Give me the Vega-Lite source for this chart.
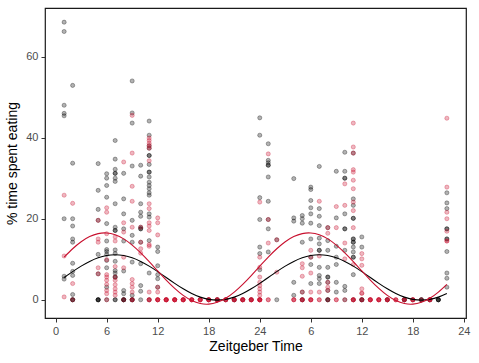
{
"$schema":"https://vega.github.io/schema/vega-lite/v6.json",
"autosize":{"type":"none"},
"padding":{"left":45,"top":8,"right":13,"bottom":45},
"width":421,"height":310,
"background":"white",
"config":{
"view":{"stroke":"#1a1a1a","strokeWidth":1.2},
"axis":{"labelFont":"Liberation Sans","labelFontSize":11,"labelColor":"#4d4d4d","titleFont":"Liberation Sans","titleFontSize":14,"titleColor":"#000000","titleFontWeight":"normal","tickColor":"#333333","tickSize":4,"grid":false,"domain":false,"labelPadding":3}
},
"datasets":{
"pts":[
{"t":1,"y":68.5,"g":"b"},{"t":1,"y":66.2,"g":"b"},{"t":1,"y":48,"g":"b"},{"t":1,"y":46,"g":"b"},{"t":1,"y":45.4,"g":"b"},{"t":1,"y":20,"g":"b"},{"t":1,"y":5.8,"g":"b"},{"t":1,"y":5.1,"g":"b"},
{"t":2,"y":52.9,"g":"b"},{"t":2,"y":33.7,"g":"b"},{"t":2,"y":20,"g":"b"},{"t":2,"y":18.2,"g":"b"},{"t":2,"y":15,"g":"b"},{"t":2,"y":14.2,"g":"b"},{"t":2,"y":9,"g":"b"},{"t":2,"y":7,"g":"b"},{"t":2,"y":6,"g":"b"},{"t":2,"y":1.3,"g":"b"},{"t":2,"y":0,"g":"b"},{"t":2,"y":0,"g":"b"},{"t":2,"y":0,"g":"b"},
{"t":5,"y":33.6,"g":"b"},{"t":5,"y":27,"g":"b"},{"t":5,"y":22.3,"g":"b"},{"t":5,"y":19.6,"g":"b"},{"t":5,"y":11.2,"g":"b"},{"t":5,"y":6.4,"g":"b"},{"t":5,"y":0,"g":"b"},{"t":5,"y":0,"g":"b"},{"t":5,"y":0,"g":"b"},{"t":5,"y":0,"g":"b"},
{"t":6,"y":31.1,"g":"b"},{"t":6,"y":30,"g":"b"},{"t":6,"y":28.2,"g":"b"},{"t":6,"y":25.3,"g":"b"},{"t":6,"y":18.8,"g":"b"},{"t":6,"y":14.5,"g":"b"},{"t":6,"y":12.4,"g":"b"},{"t":6,"y":11.9,"g":"b"},{"t":6,"y":11.2,"g":"b"},{"t":6,"y":9.7,"g":"b"},{"t":6,"y":7.9,"g":"b"},{"t":6,"y":3.1,"g":"b"},{"t":6,"y":0,"g":"b"},
{"t":7,"y":39.3,"g":"b"},{"t":7,"y":34.7,"g":"b"},{"t":7,"y":32.2,"g":"b"},{"t":7,"y":31.2,"g":"b"},{"t":7,"y":31.2,"g":"b"},{"t":7,"y":30,"g":"b"},{"t":7,"y":29.2,"g":"b"},{"t":7,"y":23.7,"g":"b"},{"t":7,"y":17.9,"g":"b"},{"t":7,"y":17.1,"g":"b"},{"t":7,"y":17.1,"g":"b"},{"t":7,"y":12.3,"g":"b"},{"t":7,"y":11.4,"g":"b"},{"t":7,"y":9.5,"g":"b"},{"t":7,"y":7.2,"g":"b"},{"t":7,"y":6.6,"g":"b"},{"t":7,"y":5.6,"g":"b"},{"t":7,"y":5.6,"g":"b"},{"t":7,"y":0,"g":"b"},{"t":7,"y":0,"g":"b"},
{"t":8,"y":31.2,"g":"b"},{"t":8,"y":24.9,"g":"b"},{"t":8,"y":21.2,"g":"b"},{"t":8,"y":17.5,"g":"b"},{"t":8,"y":14.5,"g":"b"},{"t":8,"y":7.1,"g":"b"},{"t":8,"y":2.3,"g":"b"},{"t":8,"y":1.5,"g":"b"},{"t":8,"y":0,"g":"b"},{"t":8,"y":0,"g":"b"},{"t":8,"y":0,"g":"b"},{"t":8,"y":0,"g":"b"},
{"t":9,"y":54,"g":"b"},{"t":9,"y":46.1,"g":"b"},{"t":9,"y":43.6,"g":"b"},{"t":9,"y":33,"g":"b"},{"t":9,"y":19.6,"g":"b"},{"t":9,"y":15.9,"g":"b"},{"t":9,"y":14.2,"g":"b"},{"t":9,"y":9.3,"g":"b"},{"t":9,"y":1.1,"g":"b"},{"t":9,"y":0,"g":"b"},{"t":9,"y":0,"g":"b"},{"t":9,"y":0,"g":"b"},
{"t":10,"y":33.2,"g":"b"},{"t":10,"y":30.5,"g":"b"},{"t":10,"y":23.7,"g":"b"},{"t":10,"y":21.6,"g":"b"},{"t":10,"y":20.6,"g":"b"},{"t":10,"y":17.9,"g":"b"},{"t":10,"y":17.5,"g":"b"},{"t":10,"y":17.5,"g":"b"},{"t":10,"y":14.2,"g":"b"},{"t":10,"y":8.9,"g":"b"},{"t":10,"y":3.5,"g":"b"},{"t":10,"y":2.1,"g":"b"},{"t":10,"y":0,"g":"b"},
{"t":11,"y":44.1,"g":"b"},{"t":11,"y":40.6,"g":"b"},{"t":11,"y":38,"g":"b"},{"t":11,"y":37.4,"g":"b"},{"t":11,"y":35.6,"g":"b"},{"t":11,"y":35.6,"g":"b"},{"t":11,"y":33.4,"g":"b"},{"t":11,"y":31.5,"g":"b"},{"t":11,"y":31.5,"g":"b"},{"t":11,"y":30.3,"g":"b"},{"t":11,"y":29,"g":"b"},{"t":11,"y":28.2,"g":"b"},{"t":11,"y":27.4,"g":"b"},{"t":11,"y":26.4,"g":"b"},{"t":11,"y":25.8,"g":"b"},{"t":11,"y":21.2,"g":"b"},{"t":11,"y":20.4,"g":"b"},{"t":11,"y":14.6,"g":"b"},{"t":11,"y":6.6,"g":"b"},{"t":11,"y":0,"g":"b"},
{"t":12,"y":13,"g":"b"},{"t":12,"y":11.9,"g":"b"},{"t":12,"y":8.4,"g":"b"},{"t":12,"y":6.2,"g":"b"},{"t":12,"y":5.2,"g":"b"},{"t":12,"y":3.1,"g":"b"},
{"t":18,"y":0,"g":"b"},{"t":19,"y":0,"g":"b"},{"t":19,"y":0,"g":"b"},{"t":20,"y":0,"g":"b"},{"t":21,"y":0,"g":"b"},{"t":21,"y":0,"g":"b"},{"t":22,"y":0,"g":"b"},{"t":23,"y":0,"g":"b"},
{"t":24,"y":44.9,"g":"b"},{"t":24,"y":40.6,"g":"b"},{"t":24,"y":25.2,"g":"b"},{"t":24,"y":19.8,"g":"b"},{"t":24,"y":13,"g":"b"},{"t":24,"y":11.4,"g":"b"},{"t":24,"y":7.4,"g":"b"},
{"t":25,"y":38.5,"g":"b"},{"t":25,"y":34.4,"g":"b"},{"t":25,"y":33.8,"g":"b"},{"t":25,"y":33.2,"g":"b"},{"t":25,"y":33.2,"g":"b"},{"t":25,"y":30.3,"g":"b"},{"t":25,"y":24.3,"g":"b"},{"t":25,"y":19.8,"g":"b"},{"t":25,"y":17.5,"g":"b"},{"t":25,"y":11.8,"g":"b"},
{"t":26,"y":14.8,"g":"b"},{"t":26,"y":0,"g":"b"},
{"t":28,"y":29.9,"g":"b"},{"t":28,"y":20.2,"g":"b"},{"t":28,"y":19.4,"g":"b"},{"t":28,"y":4.3,"g":"b"},{"t":28,"y":1.1,"g":"b"},
{"t":29,"y":20.8,"g":"b"},{"t":29,"y":20,"g":"b"},{"t":29,"y":18.9,"g":"b"},{"t":29,"y":14.2,"g":"b"},{"t":29,"y":1.9,"g":"b"},{"t":29,"y":0,"g":"b"},{"t":29,"y":0,"g":"b"},
{"t":30,"y":27.8,"g":"b"},{"t":30,"y":27.2,"g":"b"},{"t":30,"y":24.5,"g":"b"},{"t":30,"y":22.7,"g":"b"},{"t":30,"y":21.2,"g":"b"},{"t":30,"y":18.9,"g":"b"},{"t":30,"y":15,"g":"b"},{"t":30,"y":10.5,"g":"b"},{"t":30,"y":8.7,"g":"b"},{"t":30,"y":4,"g":"b"},
{"t":31,"y":32.9,"g":"b"},{"t":31,"y":22.5,"g":"b"},{"t":31,"y":20.6,"g":"b"},{"t":31,"y":18.3,"g":"b"},{"t":31,"y":15.2,"g":"b"},{"t":31,"y":13.8,"g":"b"},{"t":31,"y":12.2,"g":"b"},{"t":31,"y":12.2,"g":"b"},{"t":31,"y":8,"g":"b"},{"t":31,"y":6,"g":"b"},{"t":31,"y":5.2,"g":"b"},{"t":31,"y":4,"g":"b"},
{"t":32,"y":17.8,"g":"b"},{"t":32,"y":14.6,"g":"b"},{"t":32,"y":12.2,"g":"b"},{"t":32,"y":8,"g":"b"},{"t":32,"y":5.6,"g":"b"},{"t":32,"y":5.6,"g":"b"},{"t":32,"y":4.3,"g":"b"},{"t":32,"y":2.3,"g":"b"},{"t":32,"y":0,"g":"b"},{"t":32,"y":0,"g":"b"},{"t":32,"y":0,"g":"b"},
{"t":33,"y":31.7,"g":"b"},{"t":33,"y":20.2,"g":"b"},{"t":33,"y":13.2,"g":"b"},{"t":33,"y":10.5,"g":"b"},{"t":33,"y":8.7,"g":"b"},{"t":33,"y":4.3,"g":"b"},{"t":33,"y":1.9,"g":"b"},
{"t":34,"y":36.4,"g":"b"},{"t":34,"y":31.7,"g":"b"},{"t":34,"y":30,"g":"b"},{"t":34,"y":30,"g":"b"},{"t":34,"y":21.2,"g":"b"},{"t":34,"y":17.5,"g":"b"},{"t":34,"y":17.5,"g":"b"},{"t":34,"y":12.2,"g":"b"},{"t":34,"y":3.3,"g":"b"},{"t":34,"y":2.3,"g":"b"},{"t":34,"y":0,"g":"b"},
{"t":35,"y":36.2,"g":"b"},{"t":35,"y":24.9,"g":"b"},{"t":35,"y":23.3,"g":"b"},{"t":35,"y":20.1,"g":"b"},{"t":35,"y":20.1,"g":"b"},{"t":35,"y":15,"g":"b"},{"t":35,"y":15,"g":"b"},{"t":35,"y":14.2,"g":"b"},{"t":35,"y":14.2,"g":"b"},{"t":35,"y":13,"g":"b"},{"t":35,"y":11.8,"g":"b"},{"t":35,"y":10.5,"g":"b"},{"t":35,"y":10.5,"g":"b"},{"t":35,"y":6.2,"g":"b"},{"t":35,"y":0,"g":"b"},
{"t":36,"y":15.5,"g":"b"},{"t":36,"y":13,"g":"b"},{"t":36,"y":0,"g":"b"},{"t":36,"y":0,"g":"b"},{"t":36,"y":0,"g":"b"},
{"t":39,"y":0,"g":"b"},{"t":39,"y":0,"g":"b"},{"t":41,"y":0,"g":"b"},{"t":41,"y":0,"g":"b"},{"t":41,"y":0,"g":"b"},{"t":42,"y":0,"g":"b"},{"t":43,"y":0,"g":"b"},{"t":43,"y":0,"g":"b"},{"t":43,"y":0,"g":"b"},{"t":44,"y":0,"g":"b"},{"t":44,"y":0,"g":"b"},{"t":45,"y":0,"g":"b"},{"t":45,"y":0,"g":"b"},{"t":45,"y":0,"g":"b"},{"t":45,"y":0,"g":"b"},
{"t":46,"y":26.4,"g":"b"},{"t":46,"y":23.9,"g":"b"},{"t":46,"y":22.5,"g":"b"},{"t":46,"y":17.5,"g":"b"},{"t":46,"y":17.5,"g":"b"},{"t":46,"y":15,"g":"b"},{"t":46,"y":15,"g":"b"},{"t":46,"y":11.9,"g":"b"},{"t":46,"y":6.6,"g":"b"},{"t":46,"y":5.3,"g":"b"},{"t":46,"y":3.1,"g":"b"},

{"t":1,"y":25.8,"g":"r"},{"t":1,"y":10.8,"g":"r"},{"t":1,"y":0.7,"g":"r"},
{"t":2,"y":23.8,"g":"r"},{"t":2,"y":4,"g":"r"},{"t":2,"y":0,"g":"r"},
{"t":5,"y":19.6,"g":"r"},{"t":5,"y":15,"g":"r"},{"t":5,"y":14.2,"g":"r"},{"t":5,"y":7.9,"g":"r"},{"t":5,"y":6.4,"g":"r"},
{"t":6,"y":22.7,"g":"r"},{"t":6,"y":21.6,"g":"r"},{"t":6,"y":16.3,"g":"r"},{"t":6,"y":9.9,"g":"r"},{"t":6,"y":6.2,"g":"r"},{"t":6,"y":5.6,"g":"r"},{"t":6,"y":4.8,"g":"r"},{"t":6,"y":3.8,"g":"r"},{"t":6,"y":2.3,"g":"r"},{"t":6,"y":1.5,"g":"r"},{"t":6,"y":0,"g":"r"},
{"t":7,"y":15.5,"g":"r"},{"t":7,"y":14.5,"g":"r"},{"t":7,"y":8.2,"g":"r"},{"t":7,"y":5.6,"g":"r"},{"t":7,"y":4.8,"g":"r"},{"t":7,"y":3.7,"g":"r"},{"t":7,"y":2.7,"g":"r"},{"t":7,"y":1.9,"g":"r"},{"t":7,"y":1.1,"g":"r"},
{"t":8,"y":34,"g":"r"},{"t":8,"y":19,"g":"r"},{"t":8,"y":16.7,"g":"r"},{"t":8,"y":10.5,"g":"r"},{"t":8,"y":7.9,"g":"r"},{"t":8,"y":0,"g":"r"},
{"t":9,"y":45.5,"g":"r"},{"t":9,"y":36.2,"g":"r"},{"t":9,"y":28,"g":"r"},{"t":9,"y":24.3,"g":"r"},{"t":9,"y":17.9,"g":"r"},{"t":9,"y":5,"g":"r"},{"t":9,"y":4,"g":"r"},{"t":9,"y":3.1,"g":"r"},{"t":9,"y":1.9,"g":"r"},{"t":9,"y":0,"g":"r"},{"t":9,"y":0,"g":"r"},
{"t":10,"y":17.9,"g":"r"},{"t":10,"y":14.2,"g":"r"},{"t":10,"y":12.6,"g":"r"},{"t":10,"y":11.5,"g":"r"},
{"t":11,"y":39.9,"g":"r"},{"t":11,"y":39.3,"g":"r"},{"t":11,"y":38.6,"g":"r"},{"t":11,"y":38,"g":"r"},{"t":11,"y":37.4,"g":"r"},{"t":11,"y":34.3,"g":"r"},{"t":11,"y":23.7,"g":"r"},{"t":11,"y":22.5,"g":"r"},{"t":11,"y":19,"g":"r"},{"t":11,"y":18.2,"g":"r"},{"t":11,"y":17.1,"g":"r"},{"t":11,"y":13.6,"g":"r"},{"t":11,"y":13.2,"g":"r"},{"t":11,"y":1.9,"g":"r"},{"t":11,"y":0,"g":"r"},{"t":11,"y":0,"g":"r"},{"t":11,"y":0,"g":"r"},
{"t":12,"y":20.2,"g":"r"},{"t":12,"y":19,"g":"r"},{"t":12,"y":16,"g":"r"},{"t":12,"y":3.1,"g":"r"},{"t":12,"y":1.9,"g":"r"},{"t":12,"y":0,"g":"r"},{"t":12,"y":0,"g":"r"},{"t":12,"y":0,"g":"r"},{"t":12,"y":0,"g":"r"},{"t":12,"y":0,"g":"r"},
{"t":13,"y":0,"g":"r"},{"t":13,"y":0,"g":"r"},{"t":13,"y":0,"g":"r"},{"t":13,"y":0,"g":"r"},{"t":13,"y":0,"g":"r"},{"t":13,"y":0,"g":"r"},
{"t":14,"y":0,"g":"r"},{"t":14,"y":0,"g":"r"},{"t":14,"y":0,"g":"r"},{"t":14,"y":0,"g":"r"},{"t":14,"y":0,"g":"r"},{"t":14,"y":0,"g":"r"},
{"t":15,"y":0,"g":"r"},{"t":15,"y":0,"g":"r"},{"t":15,"y":0,"g":"r"},{"t":15,"y":0,"g":"r"},{"t":15,"y":0,"g":"r"},{"t":15,"y":0,"g":"r"},
{"t":16,"y":0,"g":"r"},{"t":16,"y":0,"g":"r"},{"t":16,"y":0,"g":"r"},{"t":16,"y":0,"g":"r"},{"t":16,"y":0,"g":"r"},
{"t":17,"y":0,"g":"r"},{"t":17,"y":0,"g":"r"},{"t":17,"y":0,"g":"r"},{"t":17,"y":0,"g":"r"},{"t":17,"y":0,"g":"r"},
{"t":18,"y":0,"g":"r"},{"t":18,"y":0,"g":"r"},{"t":18,"y":0,"g":"r"},{"t":18,"y":0,"g":"r"},{"t":18,"y":0,"g":"r"},
{"t":19,"y":0,"g":"r"},{"t":19,"y":0,"g":"r"},{"t":19,"y":0,"g":"r"},{"t":19,"y":0,"g":"r"},
{"t":20,"y":0,"g":"r"},{"t":20,"y":0,"g":"r"},{"t":20,"y":0,"g":"r"},{"t":20,"y":0,"g":"r"},
{"t":21,"y":0,"g":"r"},{"t":21,"y":0,"g":"r"},{"t":21,"y":0,"g":"r"},{"t":21,"y":0,"g":"r"},
{"t":22,"y":0,"g":"r"},{"t":22,"y":0,"g":"r"},{"t":22,"y":0,"g":"r"},{"t":22,"y":0,"g":"r"},{"t":22,"y":0,"g":"r"},
{"t":23,"y":0,"g":"r"},{"t":23,"y":0,"g":"r"},{"t":23,"y":0,"g":"r"},{"t":23,"y":0,"g":"r"},{"t":23,"y":0,"g":"r"},
{"t":24,"y":24.1,"g":"r"},{"t":24,"y":10.5,"g":"r"},{"t":24,"y":8,"g":"r"},{"t":24,"y":5.6,"g":"r"},{"t":24,"y":4.3,"g":"r"},{"t":24,"y":3.5,"g":"r"},{"t":24,"y":2.7,"g":"r"},{"t":24,"y":1.9,"g":"r"},{"t":24,"y":1.1,"g":"r"},{"t":24,"y":0,"g":"r"},{"t":24,"y":0,"g":"r"},{"t":24,"y":0,"g":"r"},{"t":24,"y":0,"g":"r"},{"t":24,"y":0,"g":"r"},{"t":24,"y":0,"g":"r"},
{"t":25,"y":36,"g":"r"},{"t":25,"y":19.8,"g":"r"},{"t":25,"y":14,"g":"r"},{"t":25,"y":0,"g":"r"},{"t":25,"y":0,"g":"r"},
{"t":26,"y":14.8,"g":"r"},{"t":26,"y":6.8,"g":"r"},
{"t":28,"y":0,"g":"r"},{"t":28,"y":0,"g":"r"},{"t":28,"y":0,"g":"r"},
{"t":29,"y":8.9,"g":"r"},{"t":29,"y":7.9,"g":"r"},{"t":29,"y":5.8,"g":"r"},{"t":29,"y":1.9,"g":"r"},{"t":29,"y":0,"g":"r"},{"t":29,"y":0,"g":"r"},{"t":29,"y":0,"g":"r"},
{"t":30,"y":12.2,"g":"r"},{"t":30,"y":10.5,"g":"r"},{"t":30,"y":6.6,"g":"r"},{"t":30,"y":1.9,"g":"r"},{"t":30,"y":0,"g":"r"},{"t":30,"y":0,"g":"r"},{"t":30,"y":0,"g":"r"},{"t":30,"y":0,"g":"r"},
{"t":31,"y":24.3,"g":"r"},{"t":31,"y":10.8,"g":"r"},{"t":31,"y":1.9,"g":"r"},{"t":31,"y":0,"g":"r"},{"t":31,"y":0,"g":"r"},
{"t":32,"y":17.8,"g":"r"},{"t":32,"y":16.4,"g":"r"},{"t":32,"y":4.3,"g":"r"},{"t":32,"y":3.1,"g":"r"},{"t":32,"y":2.3,"g":"r"},{"t":32,"y":0,"g":"r"},
{"t":33,"y":23,"g":"r"},{"t":33,"y":17.8,"g":"r"},{"t":33,"y":0,"g":"r"},{"t":33,"y":0,"g":"r"},
{"t":34,"y":28.6,"g":"r"},{"t":34,"y":23.3,"g":"r"},{"t":34,"y":14,"g":"r"},{"t":34,"y":10.1,"g":"r"},{"t":34,"y":0,"g":"r"},
{"t":35,"y":43.6,"g":"r"},{"t":35,"y":37.7,"g":"r"},{"t":35,"y":36.2,"g":"r"},{"t":35,"y":32.1,"g":"r"},{"t":35,"y":31.5,"g":"r"},{"t":35,"y":29.5,"g":"r"},{"t":35,"y":27.4,"g":"r"},{"t":35,"y":24.1,"g":"r"},{"t":35,"y":22,"g":"r"},{"t":35,"y":17.8,"g":"r"},{"t":35,"y":8.7,"g":"r"},{"t":35,"y":0,"g":"r"},{"t":35,"y":0,"g":"r"},{"t":35,"y":0,"g":"r"},{"t":35,"y":0,"g":"r"},
{"t":36,"y":11.4,"g":"r"},{"t":36,"y":10.1,"g":"r"},{"t":36,"y":8.5,"g":"r"},{"t":36,"y":2.7,"g":"r"},{"t":36,"y":1.6,"g":"r"},{"t":36,"y":1.6,"g":"r"},{"t":36,"y":0,"g":"r"},{"t":36,"y":0,"g":"r"},
{"t":37,"y":0,"g":"r"},{"t":37,"y":0,"g":"r"},{"t":37,"y":0,"g":"r"},{"t":37,"y":0,"g":"r"},{"t":37,"y":0,"g":"r"},
{"t":38,"y":0,"g":"r"},{"t":38,"y":0,"g":"r"},{"t":38,"y":0,"g":"r"},{"t":38,"y":0,"g":"r"},{"t":38,"y":0,"g":"r"},
{"t":39,"y":0,"g":"r"},{"t":39,"y":0,"g":"r"},{"t":39,"y":0,"g":"r"},{"t":39,"y":0,"g":"r"},
{"t":40,"y":0,"g":"r"},{"t":40,"y":0,"g":"r"},{"t":40,"y":0,"g":"r"},
{"t":41,"y":0,"g":"r"},{"t":41,"y":0,"g":"r"},{"t":41,"y":0,"g":"r"},
{"t":42,"y":0,"g":"r"},{"t":42,"y":0,"g":"r"},{"t":42,"y":0,"g":"r"},{"t":42,"y":0,"g":"r"},
{"t":43,"y":0,"g":"r"},
{"t":44,"y":0,"g":"r"},{"t":44,"y":0,"g":"r"},{"t":44,"y":0,"g":"r"},{"t":44,"y":0,"g":"r"},
{"t":46,"y":44.8,"g":"r"},{"t":46,"y":27.8,"g":"r"},{"t":46,"y":21.6,"g":"r"},{"t":46,"y":20,"g":"r"},{"t":46,"y":16.9,"g":"r"},{"t":46,"y":14.5,"g":"r"},{"t":46,"y":14.5,"g":"r"}
],
"fit":[
{"t":1,"y":5.5,"g":"b"},{"t":2,"y":6.95,"g":"b"},{"t":3,"y":8.3,"g":"b"},{"t":4,"y":9.46,"g":"b"},{"t":5,"y":10.35,"g":"b"},{"t":6,"y":10.91,"g":"b"},{"t":7,"y":11.1,"g":"b"},{"t":8,"y":10.91,"g":"b"},{"t":9,"y":10.35,"g":"b"},{"t":10,"y":9.46,"g":"b"},{"t":11,"y":8.3,"g":"b"},{"t":12,"y":6.95,"g":"b"},{"t":13,"y":5.5,"g":"b"},{"t":14,"y":4.05,"g":"b"},{"t":15,"y":2.7,"g":"b"},{"t":16,"y":1.54,"g":"b"},{"t":17,"y":0.65,"g":"b"},{"t":18,"y":0.09,"g":"b"},{"t":19,"y":-0.1,"g":"b"},{"t":20,"y":0.09,"g":"b"},{"t":21,"y":0.65,"g":"b"},{"t":22,"y":1.54,"g":"b"},{"t":23,"y":2.7,"g":"b"},{"t":24,"y":4.05,"g":"b"},
{"t":25,"y":5.5,"g":"b"},{"t":26,"y":6.95,"g":"b"},{"t":27,"y":8.3,"g":"b"},{"t":28,"y":9.46,"g":"b"},{"t":29,"y":10.35,"g":"b"},{"t":30,"y":10.91,"g":"b"},{"t":31,"y":11.1,"g":"b"},{"t":32,"y":10.91,"g":"b"},{"t":33,"y":10.35,"g":"b"},{"t":34,"y":9.46,"g":"b"},{"t":35,"y":8.3,"g":"b"},{"t":36,"y":6.95,"g":"b"},{"t":37,"y":5.5,"g":"b"},{"t":38,"y":4.05,"g":"b"},{"t":39,"y":2.7,"g":"b"},{"t":40,"y":1.54,"g":"b"},{"t":41,"y":0.65,"g":"b"},{"t":42,"y":0.09,"g":"b"},{"t":43,"y":-0.1,"g":"b"},{"t":44,"y":0.09,"g":"b"},{"t":45,"y":0.65,"g":"b"},{"t":46,"y":1.54,"g":"b"},
{"t":1,"y":10.53,"g":"r"},{"t":2,"y":12.59,"g":"r"},{"t":3,"y":14.32,"g":"r"},{"t":4,"y":15.59,"g":"r"},{"t":5,"y":16.33,"g":"r"},{"t":6,"y":16.48,"g":"r"},{"t":7,"y":16.03,"g":"r"},{"t":8,"y":15.02,"g":"r"},{"t":9,"y":13.5,"g":"r"},{"t":10,"y":11.59,"g":"r"},{"t":11,"y":9.42,"g":"r"},{"t":12,"y":7.12,"g":"r"},{"t":13,"y":4.87,"g":"r"},{"t":14,"y":2.81,"g":"r"},{"t":15,"y":1.08,"g":"r"},{"t":16,"y":-0.19,"g":"r"},{"t":17,"y":-0.93,"g":"r"},{"t":18,"y":-1.08,"g":"r"},{"t":19,"y":-0.63,"g":"r"},{"t":20,"y":0.38,"g":"r"},{"t":21,"y":1.9,"g":"r"},{"t":22,"y":3.81,"g":"r"},{"t":23,"y":5.98,"g":"r"},{"t":24,"y":8.28,"g":"r"},
{"t":25,"y":10.53,"g":"r"},{"t":26,"y":12.59,"g":"r"},{"t":27,"y":14.32,"g":"r"},{"t":28,"y":15.59,"g":"r"},{"t":29,"y":16.33,"g":"r"},{"t":30,"y":16.48,"g":"r"},{"t":31,"y":16.03,"g":"r"},{"t":32,"y":15.02,"g":"r"},{"t":33,"y":13.5,"g":"r"},{"t":34,"y":11.59,"g":"r"},{"t":35,"y":9.42,"g":"r"},{"t":36,"y":7.12,"g":"r"},{"t":37,"y":4.87,"g":"r"},{"t":38,"y":2.81,"g":"r"},{"t":39,"y":1.08,"g":"r"},{"t":40,"y":-0.19,"g":"r"},{"t":41,"y":-0.93,"g":"r"},{"t":42,"y":-1.08,"g":"r"},{"t":43,"y":-0.63,"g":"r"},{"t":44,"y":0.38,"g":"r"},{"t":45,"y":1.9,"g":"r"},{"t":46,"y":3.81,"g":"r"}
]
},
"encoding":{
"x":{"field":"t","type":"quantitative","scale":{"domain":[-1.25,48.25],"nice":false,"zero":false},
"axis":{"title":"Zeitgeber Time","values":[0,6,12,18,24,30,36,42,48],"labelExpr":"datum.value == 0 ? '0' : (datum.value % 24 == 0 ? '24' : '' + (datum.value % 24))","titlePadding":3,"labelFlush":false}},
"y":{"field":"y","type":"quantitative","scale":{"domain":[-4.5,72],"nice":false,"zero":false},
"axis":{"title":"% time spent eating","values":[0,20,40,60],"titlePadding":6}}
},
"layer":[
{"data":{"name":"pts"},
"mark":{"type":"point","shape":"circle","filled":true,"size":17,"fillOpacity":0.3,"strokeOpacity":0.4,"strokeWidth":0.8},
"encoding":{
"fill":{"field":"g","type":"nominal","scale":{"domain":["b","r"],"range":["#000000","#C8102E"]},"legend":null},
"stroke":{"field":"g","type":"nominal","scale":{"domain":["b","r"],"range":["#000000","#C8102E"]},"legend":null}
}},
{"data":{"name":"fit"},
"mark":{"type":"line","interpolate":"natural","strokeWidth":1.1},
"encoding":{
"detail":{"field":"g","type":"nominal"},
"stroke":{"field":"g","type":"nominal","scale":{"domain":["b","r"],"range":["#000000","#B8102A"]},"legend":null}
}}
]
}
